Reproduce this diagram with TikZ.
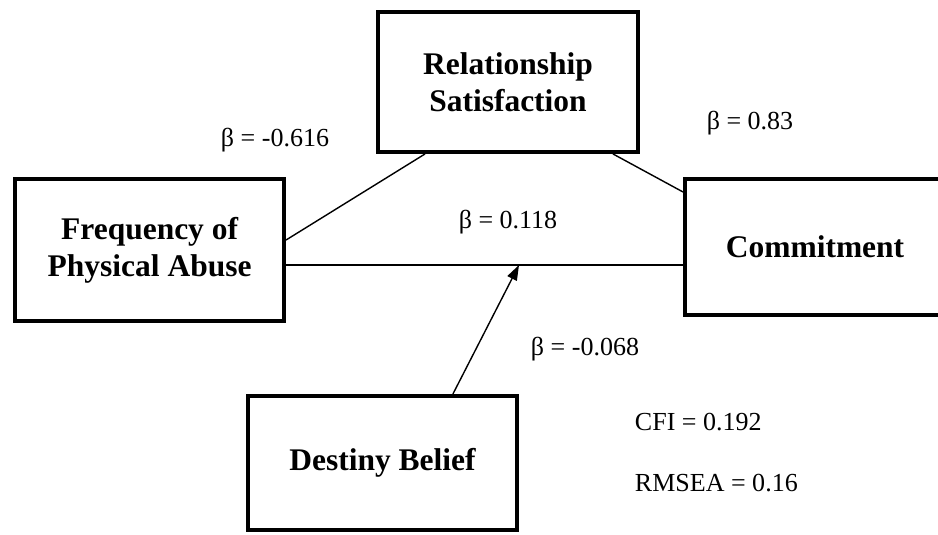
\documentclass[tikz,border=0pt]{standalone}
\usepackage{fontspec}
\setmainfont{Liberation Serif}
\usetikzlibrary{arrows.meta}
\begin{document}
\begin{tikzpicture}[
    varbox/.style = {draw, line width=2.8pt, align=center, font=\fontsize{22.4}{26.3}\selectfont\bfseries},
    coef/.style = {font=\fontsize{18.5}{22}\selectfont},
    path/.style = {line width=1pt}]
    \useasboundingbox (0,0) rectangle (23.45,13.375);
    \clip (0,0) rectangle (23.45,13.375);
    \node [varbox, minimum width=6.5cm, minimum height=3.5cm] (rs) at (12.7,11.325) {Relationship\\Satisfaction};
    \node [varbox, minimum width=6.725cm, minimum height=3.55cm] (fpa) at (3.74,7.125) {Frequency of\\Physical Abuse};
    \node [varbox, minimum width=6.5cm, minimum height=3.4cm] (com) at (20.375,7.2) {Commitment};
    \node [varbox, minimum width=6.725cm, minimum height=3.35cm] (db) at (9.5625,1.8) {Destiny Belief};
    \coordinate (low) at ([yshift=-0.375cm]fpa.east);
    \coordinate (mod) at (12.975,6.75);
    \draw [path] ([yshift=0.25cm]fpa.east) -- ([xshift=-2.075cm]rs.south);
    \draw [path] ([xshift=2.625cm]rs.south) -- ([yshift=1.375cm]com.west);
    \draw [path] (low) -- (low -| com.west);
    \draw [path, -{Triangle[length=0.38cm, width=0.26cm]}] ([xshift=1.76cm]db.north) -- (mod);
    \node [coef] (b1) at (6.875,9.875) {β = -0.616};
    \node [coef] (b2) at (18.75,10.3) {β = 0.83};
    \node [coef] (b3) at (12.7,7.825) {β = 0.118};
    \node [coef] (b4) at (14.625,4.65) {β = -0.068};
    \node [coef, anchor=west] (cfi) at (15.75,2.825) {CFI = 0.192};
    \node [coef, anchor=west] (rmsea) at (15.75,1.3) {RMSEA = 0.16};
\end{tikzpicture}
\end{document}
